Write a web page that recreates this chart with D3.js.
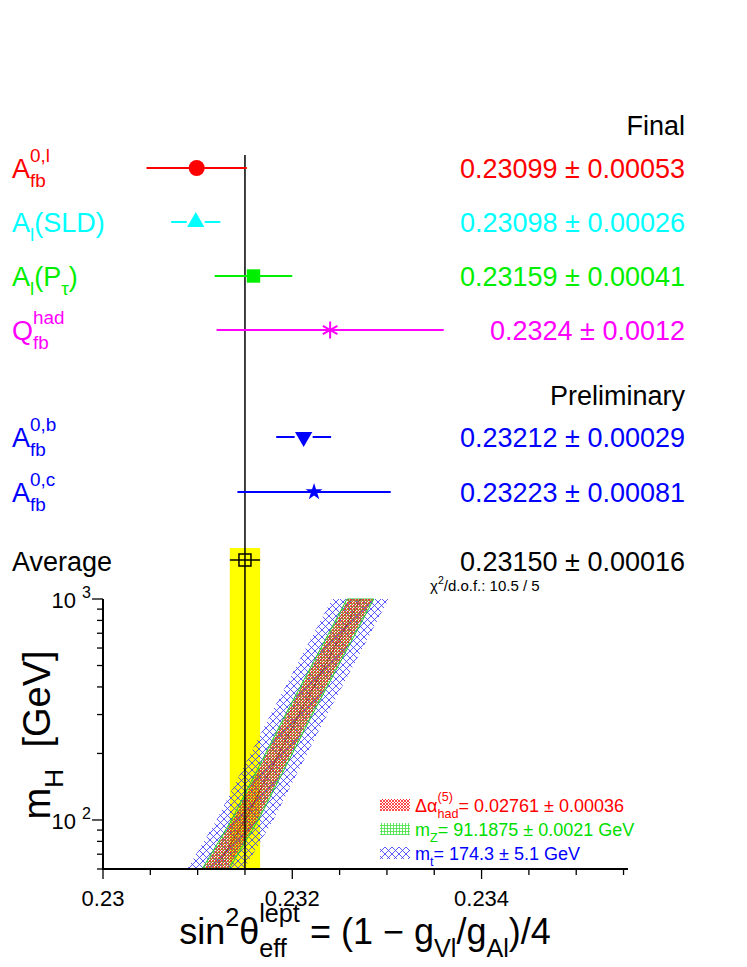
<!DOCTYPE html>
<html><head><meta charset="utf-8">
<script src="https://cdn.jsdelivr.net/npm/d3@7"></script>
<style>body{margin:0;background:#fff}text{font-family:"Liberation Sans",Arial,sans-serif;white-space:pre}</style>
</head><body>
<svg id="chart" width="747" height="967"></svg>
<script>
// measurements (value, error)
const names = ["Afb0l", "AlSLD", "AlPtau", "Qfb", "Afb0b", "Afb0c"]
const values = [0.23099, 0.23098, 0.23159, 0.2324, 0.23212, 0.23223]
const errors = [0.00053, 0.00026, 0.00041, 0.0012, 0.00029, 0.00081]
const colors = ["#ff0000", "#00ffff", "#00ee00", "#ff00ff", "#0000ff", "#0000ff"]
const valueTexts = ["0.23099 \u00b1 0.00053", "0.23098 \u00b1 0.00026", "0.23159 \u00b1 0.00041",
  "0.2324 \u00b1 0.0012", "0.23212 \u00b1 0.00029", "0.23223 \u00b1 0.00081"]
const rowY = [168, 222, 276, 330, 437, 492]
const average = 0.2315, averageErr = 0.00016

// SM prediction bands vs mH
const bandMH = [60, 100, 300, 1000]
const bandCenter = [0.23119, 0.23150, 0.23207, 0.23272]
const redHalf = 0.000127, greenHalf = 0.000142, blueHalf = 0.0003

const xTicks = [0.23, 0.232, 0.234]

const svg = d3.select("#chart")
const x = d3.scaleLinear().domain([0.23, 0.2356]).range([103, 633])
const y = d3.scaleLog().domain([60, 1000]).range([869, 599])

// text built from pieces: [string, kind] kind n / sub / sup (sup2 stacks above the previous sub)
function rich(g, x0, y0, size, col, parts, anchor) {
  const t = g.append("g").attr("fill", col)
  let cx = 0, lastStart = 0
  parts.forEach(([s, k]) => {
    const fs = k == "n" ? size : size * 0.7
    let px = cx, py = 0
    if (k == "sub") py = size * 0.35
    if (k == "sup") py = -size * 0.5
    if (k == "sup2") { px = lastStart; py = -size * 0.6 }
    const el = t.append("text").attr("x", px).attr("y", py).attr("font-size", fs).text(s)
    const w = el.node().getComputedTextLength()
    if (k == "sup2") cx = Math.max(cx, px + w)
    else { lastStart = px; cx = px + w }
  })
  const dx = anchor == "end" ? -cx : anchor == "middle" ? -cx / 2 : 0
  t.attr("transform", `translate(${x0 + dx},${y0})`)
  t.attr("data-w", cx)
  return t
}

const defs = svg.append("defs")
function hatch(id, col, kind, s) {
  const p = defs.append("pattern").attr("id", id).attr("patternUnits", "userSpaceOnUse")
    .attr("width", s).attr("height", s)
  if (kind == "grid") {
    p.append("path").attr("d", `M0,0.5H${s}M0.5,0V${s}`).attr("stroke", col).attr("stroke-width", 0.8)
  } else {
    p.append("path").attr("d", `M0,0L${s},${s}M${s},0L0,${s}`).attr("stroke", col).attr("stroke-width", 0.8)
  }
}
hatch("pRed", "#ff2020", "cross", 3)
hatch("pGreen", "#40e040", "grid", 3)
hatch("pBlue", "#3030ff", "cross", 7)

// yellow average band
svg.append("rect").attr("x", x(average - averageErr)).attr("width", x(average + averageErr) - x(average - averageErr))
  .attr("y", 548).attr("height", 869 - 548).attr("fill", "#ffff00")

function band(half) {
  return d3.area().x0(d => x(bandCenter[d] - half)).x1(d => x(bandCenter[d] + half)).y(d => y(bandMH[d]))
}
const idx = d3.range(bandMH.length)
svg.append("path").datum(idx).attr("d", band(blueHalf)).attr("fill", "url(#pBlue)")
svg.append("path").datum(idx).attr("d", band(greenHalf)).attr("fill", "url(#pGreen)")
  .attr("stroke", "#30c030").attr("stroke-width", 1)
svg.append("path").datum(idx).attr("d", band(redHalf)).attr("fill", "url(#pRed)")
svg.append("path").datum(idx).attr("d", d3.line().x(d => x(bandCenter[d])).y(d => y(bandMH[d])))
  .attr("fill", "none").attr("stroke", "#600").attr("stroke-width", 0.5)

// vertical average line
svg.append("line").attr("x1", x(average)).attr("x2", x(average)).attr("y1", 155).attr("y2", 869)
  .attr("stroke", "#000").attr("stroke-width", 1.5)

// axes
const xAxis = svg.append("g").attr("transform", "translate(0,869)")
xAxis.append("line").attr("x1", 102).attr("x2", 628).attr("stroke", "#000").attr("stroke-width", 2)
d3.range(0, 12).forEach(i => {
  const v = 0.23 + i * 0.0005, major = i % 4 == 0
  xAxis.append("line").attr("x1", x(v)).attr("x2", x(v)).attr("y1", 0).attr("y2", major ? 10 : 6)
    .attr("stroke", "#000").attr("stroke-width", 1.3)
})
xAxis.selectAll("text.t").data(xTicks).join("text").attr("x", d => x(d)).attr("y", 37)
  .attr("text-anchor", "middle").attr("font-size", 22).text(d => d3.format("")(d))

const yAxis = svg.append("g")
yAxis.append("line").attr("x1", 103).attr("x2", 103).attr("y1", 599).attr("y2", 870).attr("stroke", "#000").attr("stroke-width", 2)
const yT = [60, 70, 80, 90, 100, 200, 300, 400, 500, 600, 700, 800, 900, 1000]
yT.forEach(v => {
  const major = v == 100 || v == 1000
  yAxis.append("line").attr("x1", 103).attr("x2", major ? 92 : 97).attr("y1", y(v)).attr("y2", y(v))
    .attr("stroke", "#000").attr("stroke-width", 1.3)
})
;[[100, "2"], [1000, "3"]].forEach(([v, e]) => {
  const t = yAxis.append("text").attr("x", 91).attr("y", y(v) + 9).attr("text-anchor", "end").attr("font-size", 22)
  t.append("tspan").text("10 ")
  t.append("tspan").attr("dy", -10).attr("font-size", 16).text(e)
})

// axis titles
rich(svg, 365, 944, 36, "#000", [["sin", "n"], ["2", "sup"], ["\u03b8", "n"], ["eff", "sub"], ["lept", "sup2"],
  [" = (1 \u2212 g", "n"], ["Vl", "sub"], ["/g", "n"], ["Al", "sub"], [")/4", "n"]], "middle")
const yt = rich(svg, 0, 0, 38, "#000", [["m", "n"], ["H", "sub"], ["\u00a0\u00a0[GeV]", "n"]])
yt.attr("transform", `translate(50,${735 + (+yt.attr("data-w")) / 2}) rotate(-90)`)

// measurement labels
const labSize = 27
rich(svg, 12, rowY[0] + 10, labSize, colors[0], [["A", "n"], ["fb", "sub"], ["0,l", "sup2"]])
rich(svg, 12, rowY[1] + 10, labSize, colors[1], [["A", "n"], ["l", "sub"], ["(SLD)", "n"]])
rich(svg, 12, rowY[2] + 10, labSize, colors[2], [["A", "n"], ["l", "sub"], ["(P", "n"], ["\u03c4", "sub"], [")", "n"]])
rich(svg, 12, rowY[3] + 10, labSize, colors[3], [["Q", "n"], ["fb", "sub"], ["had", "sup2"]])
rich(svg, 12, rowY[4] + 10, labSize, colors[4], [["A", "n"], ["fb", "sub"], ["0,b", "sup2"]])
rich(svg, 12, rowY[5] + 10, labSize, colors[5], [["A", "n"], ["fb", "sub"], ["0,c", "sup2"]])
svg.append("text").attr("x", 12).attr("y", 571).attr("font-size", labSize).text("Average")

// values on the right
svg.append("text").attr("x", 685).attr("y", 135).attr("text-anchor", "end").attr("font-size", labSize).text("Final")
svg.append("text").attr("x", 685).attr("y", 405).attr("text-anchor", "end").attr("font-size", labSize).text("Preliminary")
valueTexts.forEach((t, i) => svg.append("text").attr("x", 685).attr("y", rowY[i] + 10).attr("text-anchor", "end")
  .attr("font-size", labSize).attr("fill", colors[i]).text(t))
svg.append("text").attr("x", 685).attr("y", 571).attr("text-anchor", "end").attr("font-size", labSize).text("0.23150 \u00b1 0.00016")
rich(svg, 430, 591, 15, "#000", [["\u03c7", "n"], ["2", "sup"], ["/d.o.f.: 10.5 / 5", "n"]])

// error bars and markers
const symbols = [d3.symbolCircle, d3.symbolTriangle, d3.symbolSquare, d3.symbolAsterisk, d3.symbolTriangle, d3.symbolStar]
const sizes = [200, 130, 180, 200, 130, 90]
values.forEach((v, i) => {
  const g = svg.append("g")
  g.append("line").attr("x1", x(v - errors[i])).attr("x2", x(v + errors[i])).attr("y1", rowY[i]).attr("y2", rowY[i])
    .attr("stroke", colors[i]).attr("stroke-width", 2)
  if (i == 1 || i == 4) g.append("rect").attr("x", x(v) - 9).attr("y", rowY[i] - 3).attr("width", 18).attr("height", 6).attr("fill", "#fff")
  g.append("path").attr("d", d3.symbol(symbols[i], sizes[i])())
    .attr("transform", `translate(${x(v)},${rowY[i]})` + (i == 4 ? " rotate(180)" : ""))
    .attr("fill", colors[i]).attr("stroke", i == 3 ? colors[i] : "none").attr("stroke-width", 2)
})
svg.append("line").attr("x1", x(average - averageErr)).attr("x2", x(average + averageErr)).attr("y1", 560).attr("y2", 560)
  .attr("stroke", "#000").attr("stroke-width", 1.5)
svg.append("rect").attr("x", x(average) - 6).attr("y", 554).attr("width", 12).attr("height", 12)
  .attr("fill", "none").attr("stroke", "#000").attr("stroke-width", 1.5)

// legend
const leg = [["url(#pRed)", "#ff0000"], ["url(#pGreen)", "#00dd00"], ["url(#pBlue)", "#0000ff"]]
const legParts = [
  [["\u0394\u03b1", "n"], ["had", "sub"], ["(5)", "sup2"], ["= 0.02761 \u00b1 0.00036", "n"]],
  [["m", "n"], ["Z", "sub"], ["= 91.1875 \u00b1 0.0021 GeV", "n"]],
  [["m", "n"], ["t", "sub"], ["= 174.3 \u00b1 5.1 GeV", "n"]]
]
leg.forEach((l, i) => {
  const yy = 805 + i * 24
  svg.append("rect").attr("x", 380).attr("y", yy - 6).attr("width", 30).attr("height", 12).attr("fill", l[0])
  rich(svg, 415, yy + 7, 18, l[1], legParts[i])
})
</script>
</body></html>
